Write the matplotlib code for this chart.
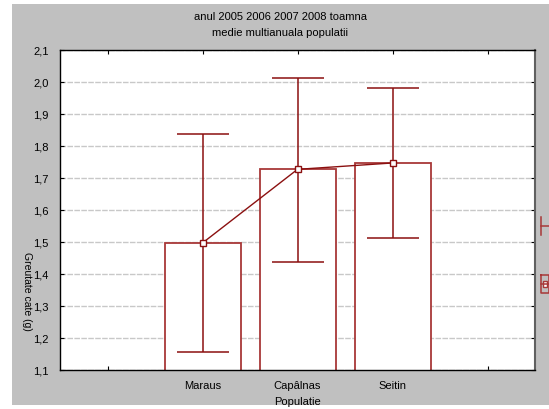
import matplotlib
matplotlib.use("Agg")
import matplotlib.pyplot as plt
from matplotlib.patches import Rectangle
from matplotlib.lines import Line2D
from matplotlib.ticker import FuncFormatter
import numpy as np

plt.rcParams['font.family'] = ['Liberation Sans', 'DejaVu Sans']

populatii = ['Maraus', 'Capâlnas', 'Seitin']
medie = [1.497, 1.727, 1.747]
limita_sus = [1.836, 2.014, 1.981]
limita_jos = [1.157, 1.437, 1.512]

red = '#8b1010'
bar_red = '#a83838'

fig = plt.figure(figsize=(5.49, 4.09), dpi=100)
fig.patch.set_facecolor('white')
fig.add_artist(Rectangle((12 / 549, 4 / 409), 537 / 549, 401 / 409,
                         transform=fig.transFigure, facecolor='#c0c0c0',
                         edgecolor='none', zorder=-10))

ax = fig.add_axes([60 / 549, 39 / 409, 475 / 549, 320 / 409])
ax.set_facecolor('white')

x = np.arange(1, len(populatii) + 1)
jos = np.array(medie) - np.array(limita_jos)
sus = np.array(limita_sus) - np.array(medie)

ax.bar(x, medie, width=0.8, bottom=0, color='white', edgecolor=bar_red,
       linewidth=1.3, zorder=2)
ax.errorbar(x, medie, yerr=[jos, sus], fmt='none', ecolor=red,
            elinewidth=1.1, capsize=19, capthick=1.1, zorder=3)
ax.plot(x, medie, color=red, linewidth=1.0, marker='s', markersize=5,
        markerfacecolor='white', markeredgecolor=red, zorder=4)

ax.set_xlim(-0.5, 4.5)
ax.set_ylim(1.1, 2.1)
ax.set_xticks(range(0, 5))
ax.set_xticklabels([''] + populatii + [''], fontsize=8)
ax.set_yticks(np.arange(1.1, 2.11, 0.1))
ax.yaxis.set_major_formatter(FuncFormatter(lambda v, p: f'{v:.1f}'.replace('.', ',')))
ax.tick_params(axis='both', direction='in', length=3, width=0.8, labelsize=8,
               top=True, right=True, colors='black')
ax.tick_params(axis='y', pad=8)
ax.tick_params(axis='x', pad=8)
ax.yaxis.grid(True, linestyle=(0, (4, 1)), color='#c8c8c8', linewidth=1.0, zorder=0)
ax.set_axisbelow(True)
for s in ax.spines.values():
    s.set_linewidth(1.0)
ax.spines['right'].set_color('#606060')
ax.spines['right'].set_linewidth(1.5)

ax.set_xlabel('Populatie', fontsize=8, labelpad=4)
fig.text(27 / 549, 1 - 291 / 409, 'Greutate cate (g)', rotation=270,
         ha='center', va='center', fontsize=7.5)

fig.text(280 / 549, 1 - 17 / 409, 'anul 2005 2006 2007 2008 toamna',
         ha='center', va='center', fontsize=8)
fig.text(280 / 549, 1 - 33 / 409, 'medie multianuala populatii',
         ha='center', va='center', fontsize=8)

# legend fragment cut off at the right edge
def fline(xs, ys, **kw):
    fig.add_artist(Line2D([v / 549 for v in xs], [1 - v / 409 for v in ys],
                          transform=fig.transFigure, color=bar_red, linewidth=1.1, **kw))

fline([541, 541], [217, 235])
fline([541, 549], [226, 226])
fline([541, 549, 549, 541, 541], [275, 275, 293, 293, 275])
fline([541, 549], [284, 284])
fig.add_artist(Rectangle((543 / 549, 1 - 287 / 409), 4 / 549, 6 / 409,
                         transform=fig.transFigure, facecolor='white',
                         edgecolor=bar_red, linewidth=1.0))

fig.savefig('out.png', dpi=100)
